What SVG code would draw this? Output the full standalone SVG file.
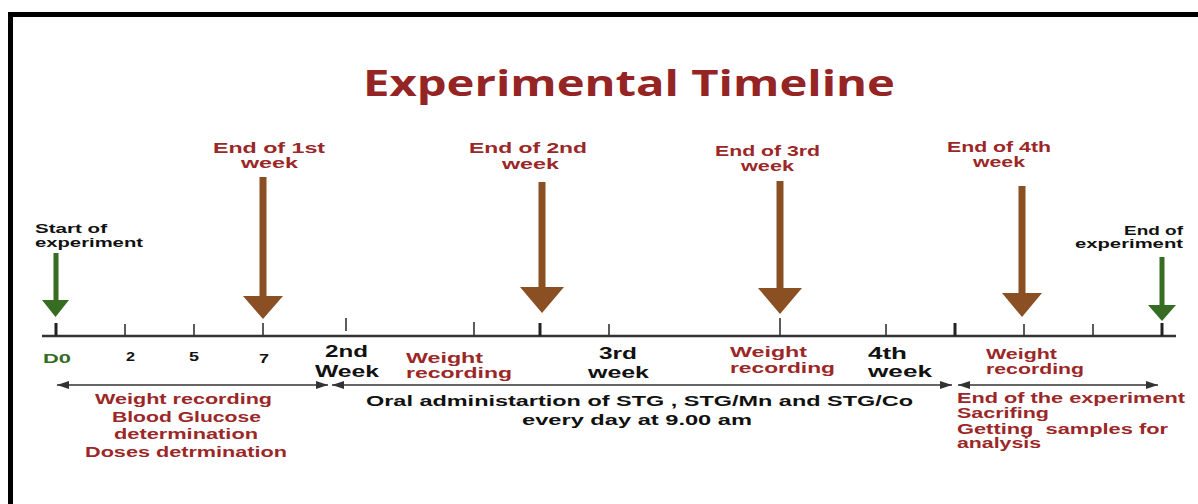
<svg xmlns="http://www.w3.org/2000/svg" width="1198" height="504" viewBox="0 0 1198 504">
<style>
text{font-family:"Liberation Sans",Arial,sans-serif;font-weight:bold;}
.title{font-family:"Open Sans","Liberation Sans",sans-serif;font-size:36px;fill:#952424;}
.red{fill:#9b2728;}
.blk{fill:#111;}
.grn{fill:#356b22;}
.s13{font-size:13px;}
.s14{font-size:14px;}
.s15{font-size:15px;}
.s16{font-size:17px;}
.s12{font-size:12px;}
.brown{fill:#8a5023;}
.green{fill:#366d22;}
.axis{stroke:#333;stroke-width:2.5;fill:none;}
.tick{stroke:#333;stroke-width:1.6;}
.tickb{stroke:#222;stroke-width:3;}
.span{stroke:#333;stroke-width:1.5;fill:none;marker-start:url(#ah);marker-end:url(#ah);}
</style>
<defs>
<marker id="ah" viewBox="0 0 12 8" refX="12" refY="4" markerWidth="12" markerHeight="8" markerUnits="userSpaceOnUse" orient="auto-start-reverse">
<path d="M0,0 L12,4 L0,8 z" fill="#333"/>
</marker>
</defs>
<rect x="0" y="0" width="1198" height="504" fill="#fff"/>
<g id="frame">
<rect x="8" y="12" width="1190" height="5" fill="#000"/>
<rect x="8" y="12" width="5" height="492" fill="#000"/>
</g>
<text id="title" class="title" x="363" y="96" textLength="532" lengthAdjust="spacingAndGlyphs">Experimental Timeline</text>

<g id="connectors">
<line class="axis" x1="42" y1="336" x2="1176" y2="336"/>
<line class="tickb" x1="56" y1="323" x2="56" y2="336"/>
<line class="tick" x1="125" y1="324" x2="125" y2="336"/>
<line class="tick" x1="194" y1="324" x2="194" y2="336"/>
<line class="tick" x1="263" y1="323" x2="263" y2="336"/>
<line class="tick" x1="346" y1="318" x2="346" y2="331"/>
<line class="tick" x1="474" y1="322" x2="474" y2="336"/>
<line class="tickb" x1="540" y1="323" x2="540" y2="336"/>
<line class="tick" x1="609" y1="324" x2="609" y2="336"/>
<line class="tick" x1="780" y1="318" x2="780" y2="336"/>
<line class="tick" x1="886" y1="324" x2="886" y2="336"/>
<line class="tickb" x1="955" y1="323" x2="955" y2="336"/>
<line class="tick" x1="1024" y1="324" x2="1024" y2="336"/>
<line class="tick" x1="1093" y1="324" x2="1093" y2="336"/>
<line class="tickb" x1="1162" y1="323" x2="1162" y2="336"/>
<line class="span" x1="57" y1="385" x2="328" y2="385"/>
<line class="span" x1="332" y1="385" x2="952" y2="385"/>
<line class="span" x1="958" y1="385" x2="1158" y2="385"/>
</g>

<g id="start">
<rect class="green" x="53.5" y="253" width="5" height="48"/>
<polygon class="green" points="42,300 69,300 55.5,317"/>
<text class="blk s13" x="35" y="233" textLength="72" lengthAdjust="spacingAndGlyphs">Start of</text>
<text class="blk s13" x="35" y="247" textLength="108" lengthAdjust="spacingAndGlyphs">experiment</text>
</g>

<g id="week1">
<rect class="brown" x="259.5" y="177" width="7" height="120"/>
<polygon class="brown" points="243,296 283,296 263,319"/>
<text class="red s14" x="213" y="153" textLength="112" lengthAdjust="spacingAndGlyphs">End of 1st</text>
<text class="red s14" x="241" y="168" textLength="57" lengthAdjust="spacingAndGlyphs">week</text>
</g>

<g id="week2">
<rect class="brown" x="538.5" y="182" width="7" height="106"/>
<polygon class="brown" points="520,287 564,287 542,313"/>
<text class="red s14" x="469" y="153" textLength="118" lengthAdjust="spacingAndGlyphs">End of 2nd</text>
<text class="red s14" x="502" y="169" textLength="57" lengthAdjust="spacingAndGlyphs">week</text>
</g>

<g id="week3">
<rect class="brown" x="776.5" y="181" width="7" height="108"/>
<polygon class="brown" points="758,288 802,288 780,314"/>
<text class="red s14" x="715" y="156" textLength="105" lengthAdjust="spacingAndGlyphs">End of 3rd</text>
<text class="red s14" x="741" y="171" textLength="53" lengthAdjust="spacingAndGlyphs">week</text>
</g>

<g id="week4">
<rect class="brown" x="1018.5" y="186" width="7" height="108"/>
<polygon class="brown" points="1002,293 1042,293 1022,317"/>
<text class="red s14" x="947" y="152" textLength="104" lengthAdjust="spacingAndGlyphs">End of 4th</text>
<text class="red s14" x="973" y="167" textLength="52" lengthAdjust="spacingAndGlyphs">week</text>
</g>

<g id="end">
<rect class="green" x="1159.5" y="257" width="5" height="49"/>
<polygon class="green" points="1148,305 1176,305 1162,321"/>
<text class="blk s13" x="1124" y="235" textLength="59" lengthAdjust="spacingAndGlyphs">End of</text>
<text class="blk s13" x="1075" y="248" textLength="108" lengthAdjust="spacingAndGlyphs">experiment</text>
</g>

<g id="axis-labels">
<text class="grn s13" x="43" y="363" textLength="28" lengthAdjust="spacingAndGlyphs">D0</text>
<text class="blk s12" x="126" y="361" textLength="9" lengthAdjust="spacingAndGlyphs">2</text>
<text class="blk s12" x="189" y="361" textLength="10" lengthAdjust="spacingAndGlyphs">5</text>
<text class="blk s12" x="259" y="363" textLength="10" lengthAdjust="spacingAndGlyphs">7</text>
<text class="blk s16" x="325" y="357" textLength="43" lengthAdjust="spacingAndGlyphs">2nd</text>
<text class="blk s16" x="315" y="377" textLength="64" lengthAdjust="spacingAndGlyphs">Week</text>
<text class="red s15" x="406" y="363" textLength="77" lengthAdjust="spacingAndGlyphs">Weight</text>
<text class="red s15" x="406" y="378" textLength="106" lengthAdjust="spacingAndGlyphs">recording</text>
<text class="blk s16" x="599" y="359" textLength="38" lengthAdjust="spacingAndGlyphs">3rd</text>
<text class="blk s16" x="588" y="378" textLength="61" lengthAdjust="spacingAndGlyphs">week</text>
<text class="red s15" x="730" y="357" textLength="77" lengthAdjust="spacingAndGlyphs">Weight</text>
<text class="red s15" x="730" y="373" textLength="105" lengthAdjust="spacingAndGlyphs">recording</text>
<text class="blk s16" x="868" y="359" textLength="39" lengthAdjust="spacingAndGlyphs">4th</text>
<text class="blk s16" x="868" y="377" textLength="64" lengthAdjust="spacingAndGlyphs">week</text>
<text class="red s15" x="986" y="359" textLength="71" lengthAdjust="spacingAndGlyphs">Weight</text>
<text class="red s15" x="986" y="374" textLength="98" lengthAdjust="spacingAndGlyphs">recording</text>
</g>

<g id="phase1">
<text class="red s15" x="95" y="404" textLength="177" lengthAdjust="spacingAndGlyphs">Weight recording</text>
<text class="red s15" x="112" y="422" textLength="149" lengthAdjust="spacingAndGlyphs">Blood Glucose</text>
<text class="red s15" x="114" y="439" textLength="144" lengthAdjust="spacingAndGlyphs">determination</text>
<text class="red s15" x="85" y="457" textLength="202" lengthAdjust="spacingAndGlyphs">Doses detrmination</text>
</g>

<g id="phase2">
<text class="blk s14" x="366" y="406" textLength="547" lengthAdjust="spacingAndGlyphs">Oral administartion of STG , STG/Mn and STG/Co</text>
<text class="blk s14" x="522" y="425" textLength="230" lengthAdjust="spacingAndGlyphs">every day at 9.00 am</text>
</g>

<g id="phase3">
<text class="red s14" x="957" y="403" textLength="228" lengthAdjust="spacingAndGlyphs">End of the experiment</text>
<text class="red s14" x="957" y="418" textLength="92" lengthAdjust="spacingAndGlyphs">Sacrifing</text>
<text class="red s14" x="957" y="434" textLength="211" lengthAdjust="spacingAndGlyphs" style="white-space:pre">Getting  samples for</text>
<text class="red s14" x="957" y="448" textLength="84" lengthAdjust="spacingAndGlyphs">analysis</text>
</g>
</svg>
